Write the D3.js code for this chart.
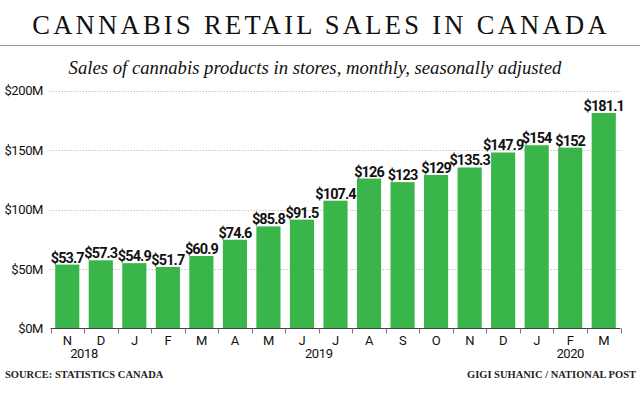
<!DOCTYPE html>
<meta charset="utf-8">
<style>
body { margin: 0; background: #fff; }
svg { display: block; }
.title { font-family: "Liberation Serif", "DejaVu Serif", serif; font-size: 26.5px; letter-spacing: 3.3px; fill: #111; }
.sub { font-family: "Liberation Serif", "DejaVu Serif", serif; font-style: italic; font-size: 18.7px; fill: #111; }
.axis text { font-family: Roboto, "Liberation Sans", sans-serif; font-size: 13px; fill: #111; letter-spacing: -0.4px; }
.val { font-family: Roboto, "Liberation Sans", sans-serif; font-weight: bold; font-size: 14.5px; fill: #111; letter-spacing: -0.9px; }
.foot { font-family: "Liberation Serif", "DejaVu Serif", serif; font-weight: bold; font-size: 10.5px; fill: #222; }
</style>
<body>
<script src="https://d3js.org/d3.v7.min.js"></script>
<script>

// data ($ millions)
var months = ["N", "D", "J", "F", "M", "A", "M", "J", "J", "A", "S", "O", "N", "D", "J", "F", "M"];
var sales = [53.7, 57.3, 54.9, 51.7, 60.9, 74.6, 85.8, 91.5, 107.4, 126, 123, 129, 135.3, 147.9, 154, 152, 181.1];
var valueLabels = ["53.7", "57.3", "54.9", "51.7", "60.9", "74.6", "85.8", "91.5", "107.4", "126", "123", "129", "135.3", "147.9", "154", "152", "181.1"];
var yTicks = [0, 50, 100, 150, 200];
var years = ["2018", "2019", "2020"];
var yearPos = [1, 8, 15.5]; // position in band units

var W = 640, H = 394;
var plotL = 50.5, plotR = 620.5, plotT = 90.5, plotB = 328.5;

var svg = d3.select("body").append("svg").attr("width", W).attr("height", H);

svg.append("text").attr("class", "title")
    .attr("x", 321).attr("y", 34).attr("text-anchor", "middle")
    .text("CANNABIS RETAIL SALES IN CANADA");
svg.append("line").attr("x1", 0).attr("x2", W).attr("y1", 45.5).attr("y2", 45.5)
    .attr("stroke", "#999").attr("stroke-width", 1);
svg.append("text").attr("class", "sub")
    .attr("x", 315).attr("y", 74).attr("text-anchor", "middle")
    .text("Sales of cannabis products in stores, monthly, seasonally adjusted");

var idx = d3.range(months.length);
var x = d3.scaleBand().domain(idx).range([plotL, plotR]).paddingInner(0.28).paddingOuter(0.14);
var y = d3.scaleLinear().domain([0, 200]).range([plotB, plotT]);
var step = (plotR - plotL) / months.length;

// grid + y labels
var yAxis = svg.append("g").attr("class", "axis");
yAxis.selectAll("line").data(yTicks.slice(1)).enter().append("line")
    .attr("x1", plotL - 1).attr("x2", plotR + 1)
    .attr("y1", function(d) { return Math.round(y(d)) + 0.5; })
    .attr("y2", function(d) { return Math.round(y(d)) + 0.5; })
    .attr("stroke", "#c8c8c8").attr("stroke-dasharray", "1.5,1.5");
yAxis.selectAll("text").data(yTicks).enter().append("text")
    .attr("x", 43).attr("y", function(d) { return y(d); }).attr("dy", "0.36em")
    .attr("text-anchor", "end")
    .text(function(d) { return "$" + d + "M"; });

// bars
svg.selectAll("rect.bar").data(sales).enter().append("rect")
    .attr("class", "bar")
    .attr("x", function(d, i) { return x(i); })
    .attr("width", x.bandwidth())
    .attr("y", function(d) { return y(d); })
    .attr("height", function(d) { return y(0) - y(d); })
    .attr("fill", "#39b54a");

svg.selectAll("text.val").data(sales).enter().append("text")
    .attr("class", "val")
    .attr("x", function(d, i) { return x(i) + x.bandwidth() / 2; })
    .attr("y", function(d) { return y(d) - 2; })
    .attr("text-anchor", "middle")
    .text(function(d, i) { return "$" + valueLabels[i]; });

// x axis
var xAxis = svg.append("g").attr("class", "axis");
xAxis.append("line").attr("x1", plotL).attr("x2", plotR).attr("y1", plotB).attr("y2", plotB)
    .attr("stroke", "#444").attr("stroke-width", 1);
xAxis.selectAll("line.tick").data(d3.range(months.length + 1)).enter().append("line")
    .attr("class", "tick")
    .attr("x1", function(d) { return Math.round(plotL + d * step) + 0.5; })
    .attr("x2", function(d) { return Math.round(plotL + d * step) + 0.5; })
    .attr("y1", plotB).attr("y2", plotB + 5)
    .attr("stroke", "#777");
xAxis.selectAll("text.m").data(months).enter().append("text")
    .attr("class", "m")
    .attr("x", function(d, i) { return x(i) + x.bandwidth() / 2; })
    .attr("y", 345).attr("text-anchor", "middle")
    .text(function(d) { return d; });
xAxis.selectAll("text.yr").data(years).enter().append("text")
    .attr("class", "yr")
    .attr("x", function(d, i) { return plotL + yearPos[i] * step; })
    .attr("y", 358).attr("text-anchor", "middle")
    .text(function(d) { return d; });

svg.append("text").attr("class", "foot").attr("x", 5).attr("y", 378).text("SOURCE: STATISTICS CANADA");
svg.append("text").attr("class", "foot").attr("x", 636).attr("y", 378).attr("text-anchor", "end")
    .text("GIGI SUHANIC / NATIONAL POST");

</script>
</body>
